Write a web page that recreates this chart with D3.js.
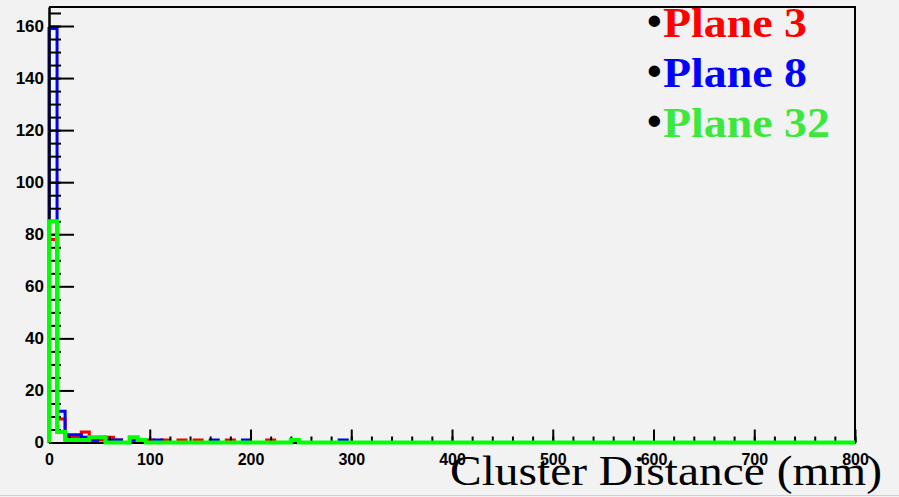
<!DOCTYPE html>
<html>
<head>
<meta charset="utf-8">
<script src="https://cdn.jsdelivr.net/npm/d3@7"></script>
<style>
  html, body { margin: 0; padding: 0; background: #f2f2f2; }
  svg { display: block; }
</style>
</head>
<body>
<svg id="chart" width="899" height="497"></svg>
<script>
// histogram binning: 100 bins of 8 mm between 0 and 800 mm
const binLow = 0;
const binHigh = 800;
const binWidth = 8;

// counts per bin
const plane3 = [
  78, 9, 2, 2, 4, 0, 1, 2, 1, 0, 0, 0, 1, 0, 1, 0, 1, 0, 1, 0,
  0, 0, 1, 0, 0, 0, 0, 1, 0, 0, 0, 0, 0, 0, 0, 0, 0, 0, 0, 0,
  0, 0, 0, 0, 0, 0, 0, 0, 0, 0, 0, 0, 0, 0, 0, 0, 0, 0, 0, 0,
  0, 0, 0, 0, 0, 0, 0, 0, 0, 0, 0, 0, 0, 0, 0, 0, 0, 0, 0, 0,
  0, 0, 0, 0, 0, 0, 0, 0, 0, 0, 0, 0, 0, 0, 0, 0, 0, 0, 0, 0
];
const plane8 = [
  159, 12, 3, 3, 2, 1, 2, 1, 1, 0, 1, 0, 0, 1, 0, 0, 0, 0, 0, 0,
  1, 0, 0, 0, 1, 0, 0, 0, 0, 0, 0, 0, 0, 0, 0, 0, 1, 0, 0, 0,
  0, 0, 0, 0, 0, 0, 0, 0, 0, 0, 0, 0, 0, 0, 0, 0, 0, 0, 0, 0,
  0, 0, 0, 0, 0, 0, 0, 0, 0, 0, 0, 0, 0, 0, 0, 0, 0, 0, 0, 0,
  0, 0, 0, 0, 0, 0, 0, 0, 0, 0, 0, 0, 0, 0, 0, 0, 0, 0, 0, 0
];
const plane32 = [
  85, 4, 1, 1, 1, 2, 2, 0, 0, 0, 2, 1, 0, 0, 0, 0, 0, 0, 0, 0,
  0, 0, 0, 0, 0, 0, 0, 0, 0, 0, 1, 0, 0, 0, 0, 0, 0, 0, 0, 0,
  0, 0, 0, 0, 0, 0, 0, 0, 0, 0, 0, 0, 0, 0, 0, 0, 0, 0, 0, 0,
  0, 0, 0, 0, 0, 0, 0, 0, 0, 0, 0, 0, 0, 0, 0, 0, 0, 0, 0, 0,
  0, 0, 0, 0, 0, 0, 0, 0, 0, 0, 0, 0, 0, 0, 0, 0, 0, 0, 0, 0
];

const xMajorTicks = [0, 100, 200, 300, 400, 500, 600, 700, 800];
const yMajorTicks = [0, 20, 40, 60, 80, 100, 120, 140, 160];
const legendLabels = ['Plane 3', 'Plane 8', 'Plane 32'];
const xTitle = 'Cluster Distance (mm)';
const yMax = 167.3;

const svg = d3.select('#chart');
const margin = { top: 7, right: 44, bottom: 54.5, left: 49 };
const width = 899, height = 497;
const innerW = width - margin.left - margin.right;
const innerH = height - margin.top - margin.bottom;

svg.append('rect').attr('width', width).attr('height', height).attr('fill', '#f2f2f2');
svg.append('line')
  .attr('x1', 0).attr('x2', width).attr('y1', 495.5).attr('y2', 495.5)
  .attr('stroke', '#cfcfcf').attr('stroke-width', 1);

const grp = svg.append('g')
  .attr('transform', 'translate(' + margin.left + ',' + margin.top + ')');

const xScale = d3.scaleLinear().domain([binLow, binHigh]).range([0, innerW]);
const yScale = d3.scaleLinear().domain([0, yMax]).range([innerH, 0]);

// frame top + right
grp.append('path')
  .attr('d', 'M0,0H' + innerW + 'V' + innerH)
  .attr('fill', 'none').attr('stroke', '#000').attr('stroke-width', 2);

const stepLine = d3.line()
  .x((d) => xScale(d[0]))
  .y((d) => yScale(d[1]))
  .curve(d3.curveStepAfter);

function histPoints(values) {
  const pts = [[binLow, 0]];
  values.forEach((v, i) => pts.push([binLow + i * binWidth, v]));
  pts.push([binHigh, values[values.length - 1]]);
  return pts;
}

function drawHist(values, color, lw) {
  grp.append('path')
    .datum(histPoints(values))
    .attr('fill', 'none')
    .attr('stroke', color)
    .attr('stroke-width', lw)
    .attr('d', stepLine);
}

drawHist(plane3, '#ff0000', 3);
drawHist(plane8, '#0000ff', 3);

// axes
const yMinor = d3.range(0, yMax, 5);
const xMinor = d3.range(0, binHigh + 1, 20);

grp.append('g')
  .attr('class', 'y-minor')
  .call(d3.axisLeft(yScale).tickValues(yMinor).tickSize(-12).tickSizeOuter(0).tickFormat(''));
grp.append('g')
  .attr('class', 'y-major')
  .call(d3.axisLeft(yScale).tickValues(yMajorTicks).tickSize(-25).tickSizeOuter(0).tickPadding(5));

grp.append('g')
  .attr('class', 'x-minor')
  .attr('transform', 'translate(0,' + innerH + ')')
  .call(d3.axisBottom(xScale).tickValues(xMinor).tickSize(-6).tickSizeOuter(0).tickFormat(''));
grp.append('g')
  .attr('class', 'x-major')
  .attr('transform', 'translate(0,' + innerH + ')')
  .call(d3.axisBottom(xScale).tickValues(xMajorTicks).tickSize(-13).tickSizeOuter(0).tickPadding(11));

grp.selectAll('.domain').attr('stroke', '#000').attr('stroke-width', 2);
grp.selectAll('.tick line').attr('stroke', '#000').attr('stroke-width', 2);
grp.selectAll('.y-major text')
  .attr('font-family', '"Liberation Sans Narrow", "Arial Narrow", sans-serif')
  .attr('font-weight', 'bold')
  .attr('font-size', 17).attr('fill', '#000');
grp.selectAll('.x-major text')
  .attr('font-family', '"Liberation Sans Narrow", "Arial Narrow", sans-serif')
  .attr('font-weight', 'bold')
  .attr('font-size', 16).attr('fill', '#000');

drawHist(plane32, '#00ff00', 4);

// legend
const legendColors = ['#ff0000', '#0000ff', '#3ce83c'];
const legendWidths = [144, 144, 167];
legendLabels.forEach((label, i) => {
  const yb = 37 + i * 50;
  svg.append('text')
    .attr('x', 647).attr('y', yb - 2)
    .attr('font-family', '"Liberation Serif", serif')
    .attr('font-weight', 'bold').attr('font-size', 42)
    .attr('fill', '#000')
    .text('\u2022');
  svg.append('text')
    .attr('x', 663).attr('y', yb)
    .attr('font-family', '"Liberation Serif", serif')
    .attr('font-weight', 'bold').attr('font-size', 42)
    .attr('fill', legendColors[i])
    .attr('textLength', legendWidths[i])
    .attr('lengthAdjust', 'spacingAndGlyphs')
    .text(label);
});

// x title
svg.append('text')
  .attr('x', 450).attr('y', 485)
  .attr('font-family', '"Liberation Serif", serif')
  .attr('font-size', 43)
  .attr('fill', '#000')
  .attr('textLength', 432)
  .attr('lengthAdjust', 'spacingAndGlyphs')
  .text(xTitle);
</script>
</body>
</html>
